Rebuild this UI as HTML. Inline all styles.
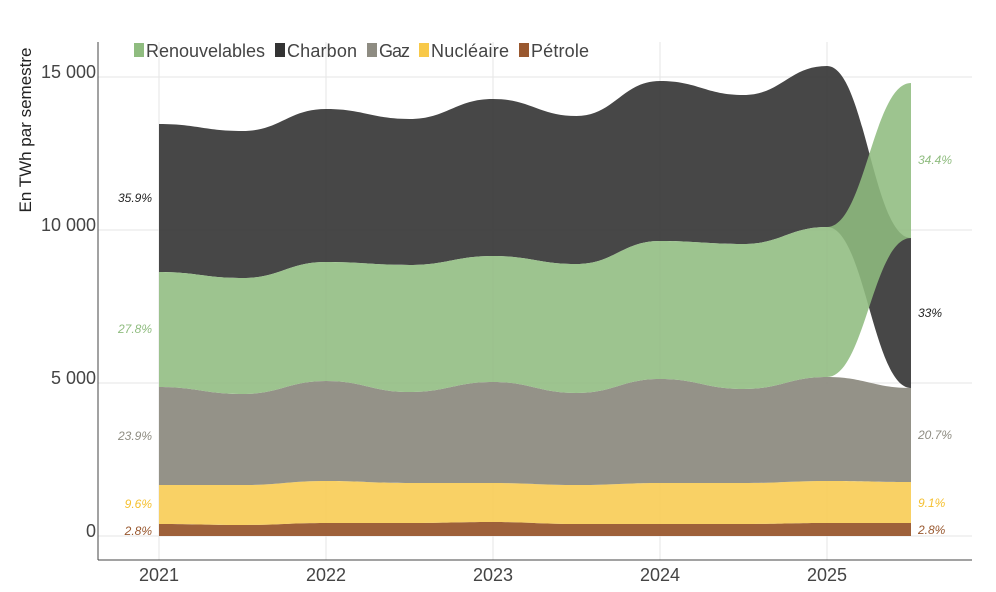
<!DOCTYPE html><html><head><meta charset="utf-8"><style>body{margin:0;background:#fff}svg{display:block;font-family:"Liberation Sans",sans-serif}</style></head><body>
<svg id="s" width="996" height="592" viewBox="0 0 996 592">
<g stroke="#e6e6e6" stroke-width="1">
<line x1="98" x2="972" y1="77" y2="77"/><line x1="98" x2="972" y1="230" y2="230"/><line x1="98" x2="972" y1="383" y2="383"/><line x1="98" x2="972" y1="536" y2="536"/>
<line x1="159" x2="159" y1="42" y2="560"/><line x1="326" x2="326" y1="42" y2="560"/><line x1="493" x2="493" y1="42" y2="560"/><line x1="660" x2="660" y1="42" y2="560"/><line x1="827" x2="827" y1="42" y2="560"/>
</g>
<g id="areas"></g>
<g stroke="#444" stroke-width="1"><line x1="98" x2="98" y1="42" y2="560"/><line x1="98" x2="972" y1="560" y2="560"/></g>
<g font-size="18" fill="#444" text-anchor="end"><text x="96" y="78">15 000</text><text x="96" y="231">10 000</text><text x="96" y="384">5 000</text><text x="96" y="537">0</text></g>
<g font-size="18" fill="#444" text-anchor="middle"><text x="159" y="581">2021</text><text x="326" y="581">2022</text><text x="493" y="581">2023</text><text x="660" y="581">2024</text><text x="827" y="581">2025</text></g>
<text transform="translate(31,130) rotate(-90)" font-size="17" fill="#222" text-anchor="middle">En TWh par semestre</text>
<g font-size="18" fill="#444">
<rect x="134" y="43" width="10" height="14" fill="#8fbc7f"/><text x="146" y="57" textLength="119">Renouvelables</text>
<rect x="275" y="43" width="10" height="14" fill="#333"/><text x="287" y="57" textLength="70">Charbon</text>
<rect x="367" y="43" width="10" height="14" fill="#8e8c82"/><text x="379" y="57" textLength="31">Gaz</text>
<rect x="419" y="43" width="10" height="14" fill="#f8c94a"/><text x="431" y="57" textLength="78">Nucléaire</text>
<rect x="519" y="43" width="10" height="14" fill="#99582f"/><text x="531" y="57" textLength="58">Pétrole</text>
</g>
<g font-size="12" font-style="italic" text-anchor="end">
<text x="152" y="202" fill="#222">35.9%</text><text x="152" y="333" fill="#8fbc7f">27.8%</text><text x="152" y="440" fill="#8e8c82">23.9%</text><text x="152" y="508" fill="#f5c030">9.6%</text><text x="152" y="535" fill="#99582f">2.8%</text></g>
<g font-size="12" font-style="italic">
<text x="918" y="164" fill="#8fbc7f">34.4%</text><text x="918" y="317" fill="#222">33%</text><text x="918" y="439" fill="#8e8c82">20.7%</text><text x="918" y="507" fill="#f5c030">9.1%</text><text x="918" y="534" fill="#99582f">2.8%</text></g>
</svg>
<script>
var X=[159,242.5,326,409.5,493,576.5,660,743.5,827,911];
var base=[536,536,536,536,536,536,536,536,536,536];
var pet=[524,525,523,523,522,524,524,524,523,523];
var nuc=[485,485,481,483,483,485,483,483,481,482];
var gaz=[387,394,381,392,382,393,379,389,377,388];
var ren=[272,278,262,265,256,264,241,244,227,83];
var renB=gaz.slice(0,9).concat([238]);
var chB=ren.slice(0,9).concat([388]);
var ch=[124,131,109,119,99,116,81,95,66,238];
function curve(ys,rev){var p=X.map(function(x,i){return [x,ys[i]]});if(rev)p.reverse();var d="";
for(var i=0;i<p.length-1;i++){var p1=p[i],p2=p[i+1],dx=(p2[0]-p1[0])*0.45;
d+="C"+[p1[0]+dx,p1[1]]+" "+[p2[0]-dx,p2[1]]+" "+p2;}return {start:p[0],d:d};}
function band(top,bot,fill,op){var a=curve(top,false),b=curve(bot,true);
return '<path d="M'+a.start+a.d+"L"+b.start+b.d+'Z" fill="'+fill+'" fill-opacity="'+op+'"/>';}
document.getElementById("areas").innerHTML=
band(pet,base,"#99582f",0.95)+band(nuc,pet,"#f8c94a",0.85)+band(gaz,nuc,"#8e8c82",0.95)+
band(ch,chB,"#333",0.9)+band(ren,renB,"#8fbc7f",0.88);
</script>
</body></html>
